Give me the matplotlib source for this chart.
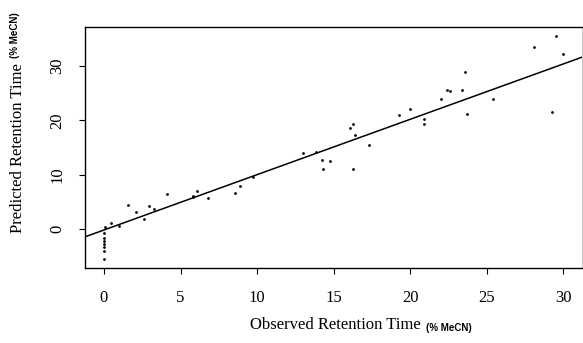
import numpy as np
import matplotlib.pyplot as plt

# Tiempos de retención observados vs. predichos (% MeCN)
observed = [0.07, 0.0, 0.0, 0.0, 0.0, 0.0, 0.0, 0.0,
            0.46, 1.0, 1.56, 2.08, 2.62, 2.93, 3.25, 4.12,
            5.79, 5.81, 6.09, 6.77, 8.57, 8.85, 9.76,
            12.97, 13.86, 14.25, 14.33, 14.75, 16.09, 16.27, 16.4, 16.27, 17.33,
            19.28, 20.0, 20.9, 20.9,
            22.0, 22.38, 22.58, 23.38, 23.55, 23.7, 25.37,
            28.06, 29.26, 29.54, 30.0]
predicted = [0.3, -0.8, -1.6, -2.2, -2.7, -3.3, -4.0, -5.6,
             1.0, 0.55, 4.4, 3.1, 1.84, 4.3, 3.74, 6.5,
             6.08, 5.84, 7.06, 5.65, 6.69, 7.86, 9.5,
             14.0, 14.1, 12.65, 11.1, 12.5, 18.66, 19.4, 17.25, 11.1, 15.4,
             20.9, 22.0, 20.3, 19.3,
             23.9, 25.6, 25.35, 25.66, 28.86, 21.1, 23.94,
             33.6, 21.5, 35.5, 32.3]

# Recta de ajuste
fit_intercept = -0.2
fit_slope = 1.02

x_ticks = [0, 5, 10, 15, 20, 25, 30]
y_ticks = [0, 10, 20, 30]

plt.rcParams['font.family'] = ['Liberation Serif', 'DejaVu Serif']

fig = plt.figure(figsize=(5.83, 3.43), dpi=100)
ax = fig.add_axes([0.1458, 0.2187, 0.8522, 0.7026])

ax.plot(observed, predicted, 'o', color='black', markersize=2.0, markeredgewidth=0)
ax.axline((0, fit_intercept), slope=fit_slope, color='black', linewidth=1.1)

ax.set_xlim(-1.24, 31.2)
ax.set_ylim(-7.2, 37.2)
ax.set_xticks(x_ticks)
ax.set_yticks(y_ticks)
ax.tick_params(direction='out', length=4, width=0.8, labelsize=12)
ax.tick_params(axis='x', pad=12)
ax.tick_params(axis='y', pad=10)
for lbl in ax.get_yticklabels():
    lbl.set_rotation(90)
    lbl.set_va('center')

for side in ['left', 'bottom', 'top']:
    ax.spines[side].set_linewidth(1.0)
ax.spines['right'].set_color('#bbbbbb')
ax.spines['right'].set_linewidth(0.6)

# Etiquetas de los ejes; la unidad va en letra pequeña sin serifa
xl = fig.text(0.5746, 0.04, 'Observed Retention Time', ha='center', va='baseline', fontsize=12)
ax.annotate('(% MeCN)', xy=(1, 0), xycoords=xl, xytext=(4, 0), textcoords='offset points',
            ha='left', va='bottom', fontsize=7, fontweight='bold', family='Liberation Sans')

yl = fig.text(0.031, 0.3207, 'Predicted Retention Time', ha='left', va='center', rotation=90,
              fontsize=12, rotation_mode='anchor')
ax.annotate('(% MeCN)', xy=(0, 1), xycoords=yl, xytext=(0, 4), textcoords='offset points',
            ha='left', va='bottom', rotation=90, fontsize=7, fontweight='bold',
            family='Liberation Sans')

fig.savefig('out.png', dpi=100)
